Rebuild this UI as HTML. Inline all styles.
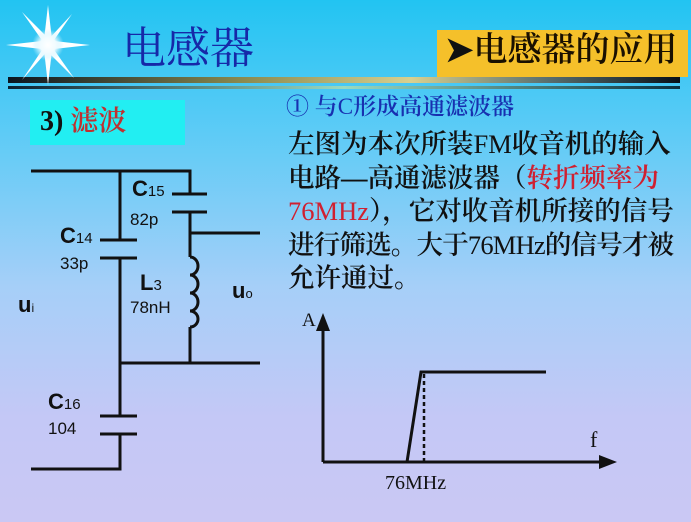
<!DOCTYPE html>
<html><head><meta charset="utf-8"><style>
body{margin:0;width:691px;height:522px;overflow:hidden;position:relative;background:linear-gradient(180deg,#22c4f2 0%,#5ccbf6 25%,#a6cff8 55%,#c4c8f6 80%,#cac8f4 100%);font-family:"Liberation Serif","Noto Serif CJK SC",serif}
.a{position:absolute;white-space:nowrap}
.s{font-family:"Liberation Sans","Noto Sans CJK SC",sans-serif;font-weight:bold;color:#111}
.n{font-weight:normal}
</style></head><body>
<svg class="a" style="left:0;top:0" width="691" height="522">
<defs><linearGradient id="g1" x1="0" x2="1"><stop offset="0" stop-color="#0a1520"/><stop offset="0.35" stop-color="#8a8a50"/><stop offset="0.6" stop-color="#d8d090"/><stop offset="0.8" stop-color="#5a7070"/><stop offset="1" stop-color="#081018"/></linearGradient>
<linearGradient id="g2" x1="0" x2="1"><stop offset="0" stop-color="#0a2030"/><stop offset="0.5" stop-color="#9adac0"/><stop offset="1" stop-color="#0a3040"/></linearGradient>
<radialGradient id="st"><stop offset="0" stop-color="#fff"/><stop offset="0.5" stop-color="#f0fbff"/><stop offset="1" stop-color="#bfefff" stop-opacity="0"/></radialGradient></defs>
<rect x="8" y="77" width="672" height="6" fill="url(#g1)"/>
<rect x="8" y="86" width="672" height="3" fill="url(#g2)"/>
<g fill="#fff">
<polygon points="48,5 52,40 48,45 44,40"/><polygon points="48,85 52,50 48,45 44,50"/>
<polygon points="6,45 42,41 48,45 42,49"/><polygon points="90,45 54,41 48,45 54,49"/>
<polygon points="22,12 50,40 46,46"/><polygon points="74,78 46,50 50,44"/>
<polygon points="72,14 50,46 46,42"/><polygon points="22,80 46,44 50,48"/>
</g>
<circle cx="48" cy="45" r="16" fill="url(#st)"/>
<rect x="437" y="30" width="251" height="47" fill="#f5c02a"/>
<rect x="30" y="100" width="155" height="45" fill="#22eef2"/>
<g stroke="#111" stroke-width="3" fill="none">
<path d="M31 171H190V194"/><path d="M120 171V240"/>
<path d="M100 240H137M100 258H137M172 194H207M172 212H207"/>
<path d="M120 258V416M100 416H137M100 434H137M120 434V469H31"/>
<path d="M190 212V257M190 233H260M120 363H260M190 327V363"/>
<path d="M190 257a8 9 0 0 1 0 18a8 9 0 0 1 0 18a8 9 0 0 1 0 18a8 8 0 0 1 0 16"/>
<path d="M323 462V325M323 462H605"/>
<path d="M407 462L421 372H546"/>
<path d="M424 374V462" stroke-dasharray="4 3" stroke-width="2.5"/>
</g>
<polygon points="323,313 316,331 330,331" fill="#111"/>
<polygon points="617,462 599,455 599,469" fill="#111"/>
</svg>
<div class="a" style="left:122px;top:12px;font-size:44px;color:#1628a8">电感器</div>
<div class="a" style="left:445px;top:29px;font-size:34px;line-height:44px;color:#111;font-weight:600">➤<span style="color:#1a1000">电感器的应用</span></div>
<div class="a" style="left:40px;top:104px;font-size:28px;line-height:36px;color:#111;font-weight:600">3) <span style="color:#c03030">滤波</span></div>
<div class="a" style="left:286px;top:91px;font-size:23px;line-height:32px;color:#1830b0;font-weight:600">① 与<span class="n">C</span>形成高通滤波器</div>
<div class="a" style="left:288px;top:128px;font-size:26.5px;line-height:33.5px;color:#111;font-weight:600">左图为本次所装<span class="n">FM</span>收音机的输入<br>电路—高通滤波器（<span style="color:#d02030">转折频率为</span><br><span style="color:#d02030" class="n">76MHz</span>），它对收音机所接的信号<br><span style="letter-spacing:-0.8px">进行筛选。大于<span class="n">76MHz</span>的信号才被</span><br>允许通过。</div>
<div class="a s" style="left:132px;top:176px;font-size:22px">C<span style="font-size:15px;font-weight:normal">15</span></div>
<div class="a s" style="left:130px;top:210px;font-size:17px;font-weight:normal">82p</div>
<div class="a s" style="left:60px;top:223px;font-size:22px">C<span style="font-size:15px;font-weight:normal">14</span></div>
<div class="a s" style="left:60px;top:254px;font-size:17px;font-weight:normal">33p</div>
<div class="a s" style="left:140px;top:270px;font-size:22px">L<span style="font-size:15px;font-weight:normal">3</span></div>
<div class="a s" style="left:130px;top:298px;font-size:17px;font-weight:normal">78nH</div>
<div class="a s" style="left:18px;top:292px;font-size:22px">u<span style="font-size:12px;font-weight:normal">i</span></div>
<div class="a s" style="left:232px;top:278px;font-size:22px">u<span style="font-size:13px;font-weight:normal">o</span></div>
<div class="a s" style="left:48px;top:389px;font-size:22px">C<span style="font-size:15px;font-weight:normal">16</span></div>
<div class="a s" style="left:48px;top:419px;font-size:17px;font-weight:normal">104</div>
<div class="a" style="left:302px;top:310px;font-size:19px;color:#111">A</div>
<div class="a" style="left:590px;top:427px;font-size:22px;color:#111">f</div>
<div class="a" style="left:385px;top:472px;font-size:20px;color:#111">76MHz</div>
</body></html>
